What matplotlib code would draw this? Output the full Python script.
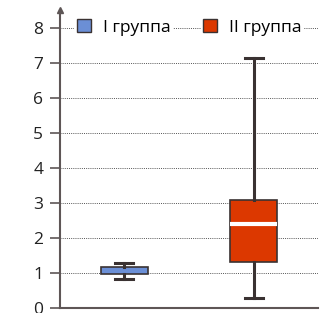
import matplotlib.pyplot as plt
from matplotlib.patches import Patch

plt.rcParams['font.family'] = ['Open Sans', 'DejaVu Sans']

groups = ['I группа', 'II группа']
colors = ['#6b8fd6', '#dc3800']
# whislo, q1, median, q3, whishi
whislo = [0.83, 0.29]
q1 = [0.97, 1.31]
med = [1.05, 2.40]
q3 = [1.17, 3.09]
whishi = [1.29, 7.12]
yticks = [0, 1, 2, 3, 4, 5, 6, 7, 8]

stats = []
for i, g in enumerate(groups):
    stats.append(dict(label=g, whislo=whislo[i], q1=q1[i], med=med[i],
                      q3=q3[i], whishi=whishi[i], fliers=[]))

fig = plt.figure(figsize=(3.22, 3.13), dpi=100)
ax = fig.add_axes([0.186, 0.016, 0.802, 0.952])

axis_col = '#5e5656'
edge = '#3a3232'

for y in yticks[1:]:
    ax.axhline(y, color='#555555', lw=0.7, ls=(0, (1, 1.2)), zorder=0)

bp = ax.bxp(stats, positions=[1, 2], widths=0.37, patch_artist=True,
            showfliers=False,
            boxprops=dict(edgecolor=edge, linewidth=1.2),
            whiskerprops=dict(color=edge, linewidth=2.2),
            capprops=dict(color=edge, linewidth=2.2),
            capwidths=0.14,
            medianprops=dict(color='white', linewidth=3))
for patch, c in zip(bp['boxes'], colors):
    patch.set_facecolor(c)
bp['medians'][0].set_linewidth(0)

ax.set_xlim(0.5, 2.5)
ax.set_ylim(0, 8.5)
ax.set_yticks(yticks)
ax.set_xticks([])
for s in ['top', 'right']:
    ax.spines[s].set_visible(False)
for s in ['left', 'bottom']:
    ax.spines[s].set_color(axis_col)
    ax.spines[s].set_linewidth(1.5)
ax.tick_params(axis='y', direction='out', length=7, width=1.2,
               color=axis_col, labelsize=12.5, labelcolor='#222222', pad=5)
ax.plot(0, 1, '^', color=axis_col, ms=5, transform=ax.transAxes, clip_on=False)

leg_kw = dict(bbox_transform=ax.transAxes, frameon=True, fancybox=False,
              edgecolor='none', framealpha=1, fontsize=12.5, borderpad=0.15,
              handlelength=0.8, handleheight=0.8, handletextpad=0.7,
              borderaxespad=0, loc='center left')
leg1 = ax.legend(handles=[Patch(facecolor=colors[0], edgecolor=edge, label=groups[0])],
                 bbox_to_anchor=(0.055, 8 / 8.5), **leg_kw)
ax.add_artist(leg1)
ax.legend(handles=[Patch(facecolor=colors[1], edgecolor=edge, label=groups[1])],
          bbox_to_anchor=(0.545, 8 / 8.5), **leg_kw)

fig.savefig('out.png', dpi=100)
